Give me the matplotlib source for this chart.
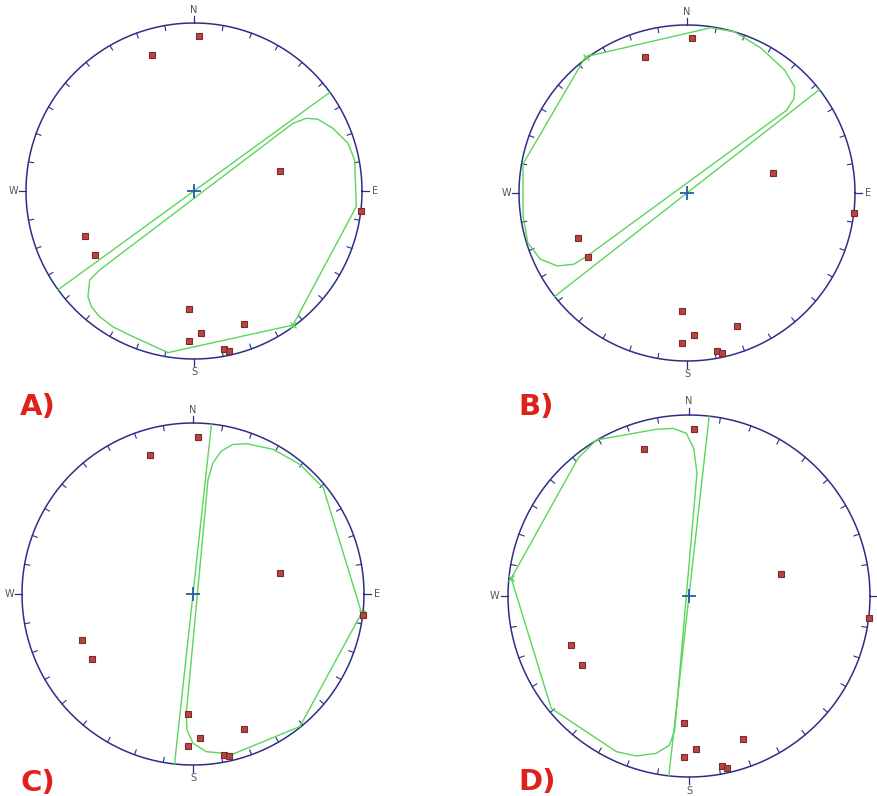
import matplotlib
matplotlib.use("Agg")
import matplotlib.pyplot as plt
import numpy as np

W_PX, H_PX = 877, 796

# poles (normalised stereonet coordinates, same in every panel)
pole_x = [0.03, -0.25, 0.51, 0.995, -0.65, -0.59, -0.03, 0.30, 0.04, -0.03, 0.18, 0.21]
pole_y = [0.92, 0.81, 0.12, -0.12, -0.27, -0.38, -0.70, -0.79, -0.845, -0.89, -0.94, -0.95]

# strike of the vertical plane drawn through the centre (degrees from N)
plane_strike = {"A": 54, "B": 52, "C": 6.2, "D": 6.4}

# envelope outlines, normalised coordinates
env_a_x = [-0.155, -0.363, -0.480, -0.562, -0.610, -0.631, -0.621, -0.562, 0.589, 0.669, 0.738, 0.827, 0.917, 0.956, 0.962, 0.966, 0.589, -0.155]
env_a_y = [-0.962, -0.867, -0.810, -0.748, -0.690, -0.629, -0.530, -0.470, 0.403, 0.433, 0.427, 0.373, 0.284, 0.185, 0.026, -0.093, -0.798, -0.962]
env_b_x = [-0.604, 0.143, 0.283, 0.442, 0.582, 0.641, 0.637, 0.592, -0.594, -0.673, -0.773, -0.873, -0.948, -0.976, -0.976, -0.604]
env_b_y = [0.811, 0.984, 0.960, 0.861, 0.731, 0.631, 0.562, 0.492, -0.375, -0.424, -0.434, -0.394, -0.295, -0.135, 0.173, 0.811]
env_c_x = [0.986, 0.762, 0.625, 0.469, 0.313, 0.234, 0.166, 0.117, 0.088, -0.039, -0.035, 0.0, 0.078, 0.234, 0.625, 0.986]
env_c_y = [-0.111, 0.621, 0.758, 0.846, 0.879, 0.875, 0.836, 0.768, 0.670, -0.697, -0.795, -0.873, -0.922, -0.936, -0.775, -0.111]
env_d_x = [-0.982, -0.613, -0.512, -0.180, -0.088, -0.015, 0.026, 0.044, -0.079, -0.107, -0.180, -0.291, -0.401, -0.761, -0.982]
env_d_y = [0.098, 0.761, 0.862, 0.921, 0.926, 0.899, 0.816, 0.678, -0.740, -0.823, -0.869, -0.884, -0.860, -0.621, 0.098]

# apex of each envelope (small green cross)
apex = {"A": (0.589, -0.798), "B": (-0.604, 0.811), "C": (0.986, -0.111), "D": (-0.982, 0.098)}

# panel centre / radius in pixels
panels = {"A": (194, 191, 168), "B": (687, 193, 168), "C": (193, 594, 171), "D": (689, 596, 181)}
envelopes = {"A": (env_a_x, env_a_y), "B": (env_b_x, env_b_y),
             "C": (env_c_x, env_c_y), "D": (env_d_x, env_d_y)}
labels = {"A": (20, 407), "B": (518, 407), "C": (20, 783), "D": (518, 782)}

circ_col = '#2d2f86'
green = '#5ad65a'

fig = plt.figure(figsize=(W_PX / 100, H_PX / 100), dpi=100)
L = 1.15

for key in ["A", "B", "C", "D"]:
    cx, cy, R = panels[key]
    size = 2 * L * R
    ax = fig.add_axes([(cx - L * R) / W_PX, (H_PX - cy - L * R) / H_PX, size / W_PX, size / H_PX])
    ax.set_xlim(-L, L)
    ax.set_ylim(-L, L)
    ax.set_aspect('equal')
    ax.axis('off')

    t = np.linspace(0, 2 * np.pi, 400)
    ax.plot(np.cos(t), np.sin(t), color=circ_col, lw=1.1, zorder=2)
    for a in range(0, 360, 10):
        r = np.radians(a)
        if a % 90 == 0:
            ax.plot([np.sin(r), 1.04 * np.sin(r)], [np.cos(r), 1.04 * np.cos(r)], color=circ_col, lw=0.9)
        else:
            ax.plot([np.sin(r), 0.97 * np.sin(r)], [np.cos(r), 0.97 * np.cos(r)], color=circ_col, lw=0.8)
    for txt, a in [("N", 0), ("E", 90), ("S", 180), ("W", 270)]:
        r = np.radians(a)
        ax.text(1.075 * np.sin(r), 1.075 * np.cos(r), txt, fontsize=7, color='#555555',
                ha='center', va='center', clip_on=False)

    s = np.radians(plane_strike[key])
    ax.plot([-np.sin(s), np.sin(s)], [-np.cos(s), np.cos(s)], color=green, lw=1.0, zorder=3)

    ex, ey = envelopes[key]
    ax.plot(ex, ey, color=green, lw=1.0, zorder=3)
    ax.plot(*apex[key], marker='x', color=green, ms=5, mew=1.0, zorder=4)

    ax.plot([0], [0], marker='+', color='#2a5aa8', ms=10, mew=1.3, zorder=5)
    ax.plot(pole_x, pole_y, ls='none', marker='s', ms=5, mfc='#b8463e', mec='#7a2b2b', mew=0.8, zorder=6)

    lx, ly = labels[key]
    fig.text(lx / W_PX, 1 - ly / H_PX, key + ")", fontsize=21, fontweight='bold',
             color='#e0201c', ha='left', va='center')

fig.savefig("out.png", dpi=100)
